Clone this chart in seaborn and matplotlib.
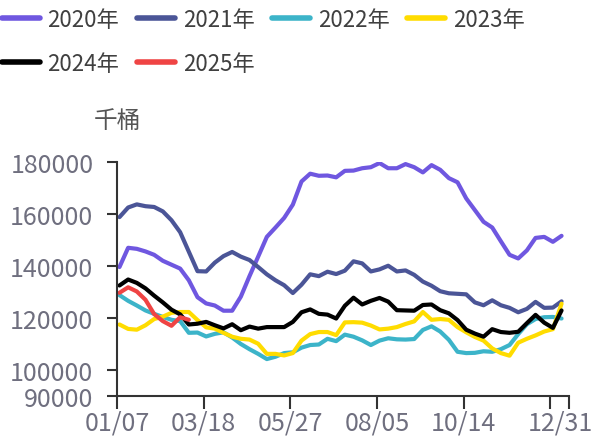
import numpy as np
import pandas as pd
import matplotlib
matplotlib.use("Agg")
import matplotlib.pyplot as plt
import seaborn as sns

sns.set_style("ticks")
plt.rcParams['font.family'] = ['Noto Sans CJK SC', 'DejaVu Sans']

years = ["2020年", "2021年", "2022年", "2023年", "2024年", "2025年"]
colors = ["#6f57e0", "#4b5597", "#3cb4c9", "#ffdc00", "#000000", "#ef4444"]

v2020 = [139600, 147000, 146600, 145600, 144300, 142000, 140500, 139000, 134500, 128000,
         125600, 124800, 122800, 122800, 128200, 136100, 143600, 151200, 154800, 158500,
         163600, 172500, 175500, 174700, 174800, 174100, 176600, 176700, 177600, 178000,
         179600, 177600, 177600, 179200, 178000, 176000, 178800, 177000, 173800, 172200,
         166000, 161500, 157000, 154800, 149500, 144300, 142900, 146000, 150800, 151200,
         149300, 151600]
v2021 = [158800, 162500, 163700, 163000, 162700, 161000, 157600, 153000, 145500, 138000,
         137900, 141300, 143800, 145400, 143600, 142300, 139600, 136800, 134500, 132600,
         129600, 132800, 136800, 136100, 137800, 136900, 138200, 141800, 141000, 137900,
         138700, 140100, 137900, 138300, 136600, 134000, 132400, 130300, 129500, 129300,
         129100, 126000, 124900, 126800, 124900, 123900, 122200, 123500, 126200, 123900,
         124000, 126400]
v2022 = [128800, 126600, 124800, 122900, 121600, 120400, 119300, 118800, 114300, 114400,
         112900, 113900, 114500, 112500, 110000, 108000, 106200, 104200, 105100, 106500,
         106800, 108600, 109600, 109800, 112000, 111100, 113600, 112800, 111400, 109600,
         111300, 112200, 111800, 111700, 111900, 115400, 116800, 114800, 111600, 107000,
         106500, 106600, 107200, 107000, 108000, 109600, 113800, 117600, 119600, 120300,
         120400, 119800]
v2023 = [117500, 115800, 115500, 117200, 119600, 120500, 122000, 122300, 122300, 119200,
         116400, 115900, 114300, 112800, 112000, 111700, 110100, 106200, 106200, 105600,
         106500, 111300, 113800, 114600, 114600, 113400, 118300, 118400, 118200, 117100,
         115600, 115900, 116500, 117700, 118700, 122300, 119300, 119600, 119300, 116500,
         114500, 112700, 111300, 108300, 106500, 105500, 110500, 112000, 113300, 114800,
         115700, 125500]
v2024 = [132500, 134800, 133500, 131400, 128600, 126000, 123200, 121400, 117500, 117800,
         118500, 117200, 116000, 117600, 115300, 116700, 115900, 116500, 116500, 116500,
         118500, 122200, 123300, 121600, 121300, 119800, 124700, 127800, 125200, 126600,
         127700, 126300, 123000, 122900, 122800, 125000, 125200, 123000, 121800, 119200,
         115500, 114000, 112800, 115700, 114600, 114300, 114700, 118000, 121200, 118200,
         116200, 122900]
v2025 = [129700, 131800, 130200, 127000, 121500, 118800, 117000, 120300, 119300]

series = [v2020, v2021, v2022, v2023, v2024, v2025]

xtick_days = [0, 70, 140, 210, 280, 350, 365]
xtick_labels = ["01/07", "03/18", "05/27", "08/05", "10/14", "", ""]
last_label_day = 358
last_label = "12/31"
yticks = [90000, 100000, 120000, 140000, 160000, 180000]

rows = []
for yr, vals in zip(years, series):
    for k, v in enumerate(vals):
        rows.append({"day": 2 + 7 * k, "value": v, "year": yr})
df = pd.DataFrame(rows)

fig = plt.figure(figsize=(5.93, 4.39), dpi=100)
ax = fig.add_axes([0.1973, 0.0957, 0.9595 - 0.1973, 0.6287 - 0.0957])

sns.lineplot(data=df, x="day", y="value", hue="year", hue_order=years,
             palette=colors, linewidth=3.0, ax=ax, legend=False)

ax.set_xlim(0, 365)
ax.set_ylim(90000, 180000)
ax.set_yticks(yticks)
ax.set_yticklabels([str(v) for v in yticks])
ax.set_xticks(xtick_days)
ax.set_xticklabels(xtick_labels)
ax.set_xticks([last_label_day], minor=True)
ax.set_xticklabels([last_label], minor=True)
ax.set_xlabel("")
ax.set_ylabel("")

tick_color = "#6f6f7f"
ax.tick_params(axis="y", which="major", length=7, width=1.5, color="#333333",
               labelsize=18, labelcolor=tick_color, pad=10)
ax.tick_params(axis="x", which="major", length=9, width=1.5, color="#333333",
               labelsize=18, labelcolor=tick_color, pad=1)
ax.tick_params(axis="x", which="minor", length=0, labelsize=18,
               labelcolor=tick_color, pad=10)
for s in ["top", "right"]:
    ax.spines[s].set_visible(False)
for s in ["left", "bottom"]:
    ax.spines[s].set_linewidth(1.5)
    ax.spines[s].set_color("#333333")

fig.text(117 / 593, 1 - 122 / 439, "千桶", ha="center", va="center",
         fontsize=17, color="#555555")

# legend filled column-wise: reorder so rows read 2020-2023 / 2024-2025
order = [0, 4, 1, 5, 2, 3]
handles = [plt.Line2D([], [], color=colors[i], linewidth=4) for i in order]
labels = [years[i] for i in order]
leg = fig.legend(handles, labels, loc="upper left", bbox_to_anchor=(2 / 593, 1 - 9 / 439),
                 ncol=4, frameon=False, fontsize=16, handlelength=1.7,
                 handletextpad=0.35, columnspacing=0.8, labelspacing=0.95,
                 borderpad=0, borderaxespad=0)
for t in leg.get_texts():
    t.set_color("#404040")

fig.savefig("out.png", dpi=100)
